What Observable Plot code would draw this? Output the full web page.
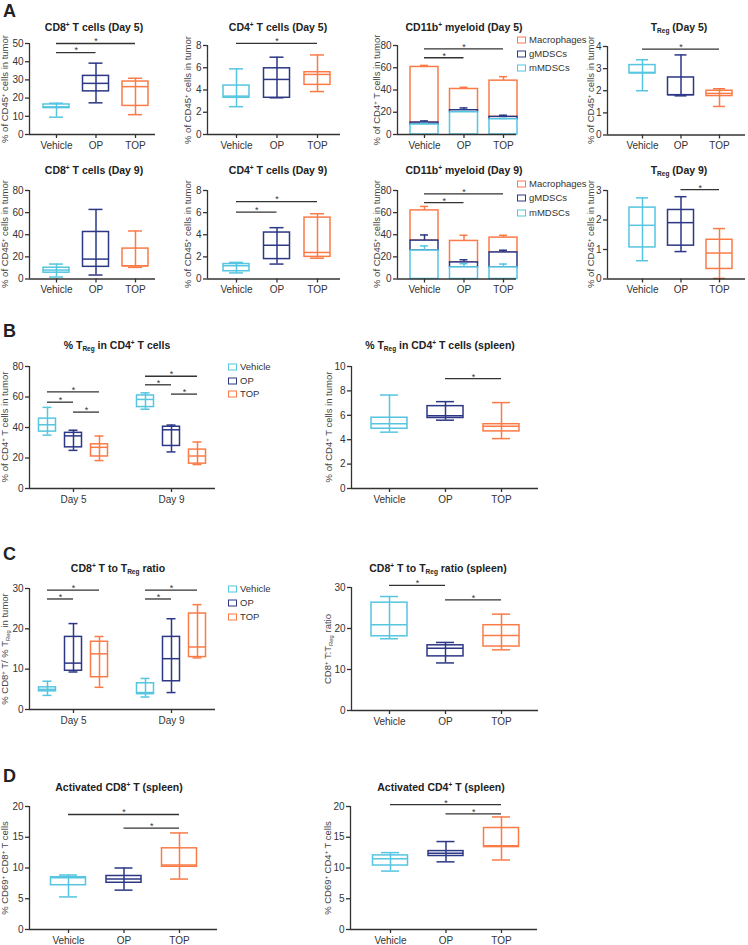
<!DOCTYPE html>
<html><head><meta charset="utf-8">
<script src="https://cdn.jsdelivr.net/npm/d3@7"></script>
<script src="https://cdn.jsdelivr.net/npm/@observablehq/plot@0.6"></script>
<style>
html,body{margin:0;padding:0;background:#fff;}
#fig{position:relative;width:748px;height:945px;overflow:hidden;font-family:"Liberation Sans",Arial,sans-serif;color:#222;}
.t{position:absolute;white-space:nowrap;line-height:1;}
.title{font-weight:bold;font-size:10.5px;transform:translate(-50%,-50%);color:#222;}
.ylab{font-size:9.5px;color:#444;transform:translate(-50%,-50%) rotate(-90deg);}
.letter{font-weight:bold;font-size:18px;transform:translate(0,-50%);}
.leg{font-size:9.5px;color:#333;transform:translate(0,-50%);}
.sq{position:absolute;width:7px;height:5px;border:1.4px solid;transform:translate(0,-50%);}
sub{font-size:0.62em;vertical-align:-0.35em;line-height:0}
sup{font-size:0.62em;vertical-align:0.55em;line-height:0}
</style></head><body><div id="fig"></div><script>
// ---------- data ----------
const groups = ["Vehicle", "OP", "TOP"];
const days = ["Day 5", "Day 9"];
const groupColors = ["#55c5e0", "#2c3785", "#fb7b47"];
const subsets = ["Macrophages", "gMDSCs", "mMDSCs"];

// box stats per group: [min, Q1, median, Q3, max]
const cd8Day5 = [[9.5, 14.5, 15.2, 16.5, 17.2], [17.4, 23.7, 28.1, 32.2, 39.2], [10.9, 15.7, 26.3, 29.1, 30.9]];
const cd8Day5Sig = [[0, 1, 45], [0, 2, 50]];
const cd4Day5 = [[2.5, 3.3, 3.45, 4.4, 5.9], [3.3, 3.3, 4.95, 5.95, 6.95], [3.86, 4.46, 5.4, 5.6, 7.15]];
const cd4Day5Sig = [[0, 2, 8.2]];
const tregDay5 = [[2.0, 2.78, 2.83, 3.16, 3.4], [1.77, 1.8, 1.82, 2.6, 3.62], [1.29, 1.76, 1.88, 2.0, 2.09]];
const tregDay5Sig = [[0, 2, 3.88]];
const cd8Day9 = [[1.8, 5.7, 8.1, 10.2, 13.5], [3.6, 11, 18, 42.5, 62.9], [10.5, 11.4, 12, 27.5, 43.4]];
const cd8Day9Sig = [];
const cd4Day9 = [[0.55, 0.7, 1.2, 1.35, 1.5], [1.35, 1.8, 3.05, 4.2, 4.64], [1.88, 2.0, 2.4, 5.55, 5.9]];
const cd4Day9Sig = [[0, 1, 6.05], [0, 2, 7.0]];
const tregDay9 = [[0.62, 1.07, 1.82, 2.42, 2.75], [0.93, 1.13, 1.91, 2.34, 2.79], [0.02, 0.34, 0.88, 1.33, 1.71]];
const tregDay9Sig = [[1, 2, 3.03]];

// CD11b+ myeloid stacked means (bottom to top: mMDSCs, gMDSCs, Macrophages) and errors
const mmdscDay5 = [9.0, 20.0, 13.7], mmdscDay5Err = [1.0, 1.0, 0.8];
const gmdscDay5 = [1.7, 1.8, 2.1], gmdscDay5Err = [1.5, 2.1, 1.5];
const macroDay5 = [50.0, 19.1, 32.6], macroDay5Err = [1.4, 1.5, 3.6];
const myeloidDay5Sig = [[0, 1, 69], [0, 2, 77]];
const mmdscDay9 = [25.7, 10.5, 10.5], mmdscDay9Err = [4.2, 3.3, 3.0];
const gmdscDay9 = [9.0, 4.5, 13.5], gmdscDay9Err = [5.1, 2.4, 2.0];
const macroDay9 = [27.3, 19.4, 13.4], macroDay9Err = [3.6, 5.1, 2.1];
const myeloidDay9Sig = [[0, 1, 69], [0, 2, 77]];

// B: % Treg in CD4+ T cells, per day then per group
const tregPctDay5 = [[35, 37.3, 41.8, 45.8, 53.2], [25, 27, 34.5, 36.5, 38.2], [18.3, 21, 27, 29, 34.4]];
const tregPctDay9 = [[52, 53.4, 58.4, 61, 62.7], [24, 27.9, 38.5, 40.5, 41.6], [15.7, 16.3, 21.3, 25.5, 30.5]];
const tregPctSig = [[0, 0, 2, 63.4], [0, 0, 1, 56.6], [0, 1, 2, 50.1], [1, 0, 2, 73.6], [1, 0, 1, 68], [1, 1, 2, 61.9]];
const tregSpleen = [[4.62, 4.9, 5.3, 5.8, 7.66], [5.6, 5.78, 5.97, 6.75, 7.12], [4.09, 4.68, 5.1, 5.27, 7.04]];
const tregSpleenSig = [[1, 2, 9.0]];

// C: CD8+ T to Treg ratio
const ratioDay5 = [[3.5, 4.5, 5.0, 5.5, 7.0], [9.3, 9.6, 11.5, 18.0, 21.3], [5.5, 8.0, 13.8, 16.8, 18.1]];
const ratioDay9 = [[3.1, 3.8, 4.2, 6.5, 7.7], [4.2, 7.0, 12.6, 18.0, 22.5], [12.8, 13.0, 15.5, 23.8, 26.0]];
const ratioSig = [[0, 0, 2, 29.6], [0, 0, 1, 27.4], [1, 0, 2, 29.6], [1, 0, 1, 27.4]];
const ratioSpleen = [[17.5, 18.1, 20.9, 26.3, 27.8], [11.6, 13.2, 15.2, 15.9, 16.6], [14.8, 15.6, 18.3, 20.8, 23.5]];
const ratioSpleenSig = [[0, 1, 30.5], [1, 2, 27]];

// D: activated (CD69+) T cells in spleen
const cd69Cd8 = [[5.3, 7.2, 8.4, 8.5, 8.86], [6.4, 7.6, 8.2, 8.7, 10], [8.2, 10.2, 10.5, 13.2, 15.7]];
const cd69Cd8Sig = [[0, 2, 18.7], [1, 2, 16.5]];
const cd69Cd4 = [[9.5, 10.4, 11.5, 12.05, 12.5], [11.0, 11.95, 12.4, 12.75, 14.3], [11.3, 13.4, 13.6, 16.5, 18.3]];
const cd69Cd4Sig = [[0, 2, 20.3], [1, 2, 18.8]];

// ---------- helpers ----------
const fig = document.getElementById("fig");
const AX = "#333";
const yfmt = d3.format("~g");
function put(el, left, top) { el.style.position = "absolute"; el.style.left = left + "px"; el.style.top = top + "px"; fig.appendChild(el); }
function text(cls, html, x, y) { const d = document.createElement("div"); d.className = "t " + cls; d.innerHTML = html; put(d, x, y); return d; }
function legend(x, ys, labels, colors) {
  labels.forEach((l, i) => {
    const s = document.createElement("div"); s.className = "sq"; s.style.borderColor = colors[i]; put(s, x, ys[i]);
    text("leg", l, x + 12, ys[i]);
  });
}

function boxMarks(stats, xs, hw, cw) {
  const rows = stats.map((s, i) => ({x: xs[i], lo: s[0], q1: s[1], med: s[2], q3: s[3], hi: s[4], c: groupColors[i % 3]}));
  const sw = 1.5;
  return [
    Plot.ruleX(rows, {x: "x", y1: "lo", y2: "hi", stroke: "c", strokeWidth: sw}),
    Plot.rect(rows, {x1: d => d.x - hw, x2: d => d.x + hw, y1: "q1", y2: "q3", stroke: "c", fill: "none", strokeWidth: sw}),
    Plot.ruleY(rows, {y: "med", x1: d => d.x - hw, x2: d => d.x + hw, stroke: "c", strokeWidth: sw}),
    Plot.ruleY(rows, {y: "lo", x1: d => d.x - cw, x2: d => d.x + cw, stroke: "c", strokeWidth: sw}),
    Plot.ruleY(rows, {y: "hi", x1: d => d.x - cw, x2: d => d.x + cw, stroke: "c", strokeWidth: sw})
  ];
}
function sigMarks(rows) {
  return [
    Plot.ruleY(rows, {x1: "a", x2: "b", y: "y", stroke: AX, strokeWidth: 1.3}),
    Plot.text(rows, {x: d => (d.a + d.b) / 2, y: "y", text: () => "*", dy: -2, fontSize: 9, fill: AX})
  ];
}
function stackMarks(segs, errs, colors, xs, hw, cw) {
  const rects = [], bars = [];
  xs.forEach((x, i) => {
    let base = 0;
    segs.forEach((s, k) => {
      const top = base + s[i];
      rects.push({x, y1: base, y2: top, c: colors[k], k});
      bars.push({x, y1: top, y2: top + errs[k][i], c: colors[k], k});
      base = top;
    });
  });
  rects.sort((a, b) => b.k - a.k);
  const sw = 1.5;
  return [
    Plot.rect(rects, {x1: d => d.x - hw, x2: d => d.x + hw, y1: "y1", y2: "y2", stroke: "c", fill: "white", strokeWidth: sw}),
    Plot.ruleX(bars, {x: "x", y1: "y1", y2: "y2", stroke: "c", strokeWidth: sw}),
    Plot.ruleY(bars, {y: "y2", x1: d => d.x - cw, x2: d => d.x + cw, stroke: "c", strokeWidth: sw})
  ];
}

function panel(g) {
  const mL = 28, mR = 6, mT = 26, mB = 24;
  const width = g.axisEnd - g.axisX + mL + mR;
  const height = g.y0 - g.yTop + mT + mB;
  const d0 = (g.axisX - g.c0) / g.step, d1 = (g.axisEnd - g.c0) / g.step;
  const px = v => v / g.step;
  const svg = Plot.plot({
    width, height, marginLeft: mL, marginRight: mR, marginTop: mT, marginBottom: mB,
    x: {type: "linear", domain: [d0, d1]},
    y: {domain: [0, g.ymax]},
    color: {type: "identity"},
    style: {fontFamily: "'Liberation Sans', Arial, sans-serif", fontSize: "10px", color: "#333", background: "transparent", overflow: "visible"},
    marks: [
      ...g.marks(px),
      Plot.ruleX([d0], {y1: 0, y2: g.ymax, stroke: AX, strokeWidth: 1.3}),
      Plot.ruleY([0], {x1: d0, x2: d1, stroke: AX, strokeWidth: 1.3}),
      Plot.axisY({ticks: g.yticks, tickFormat: yfmt, tickSize: 4, tickPadding: 2, label: null, stroke: AX, strokeWidth: 1.3, fill: "#333"}),
      Plot.axisX({ticks: g.xticks, tickFormat: g.xfmt, tickSize: 4, tickPadding: 3, label: null, stroke: AX, strokeWidth: 1.3, fill: "#333"})
    ]
  });
  put(svg, g.axisX - mL, g.yTop - mT);
  if (g.title) text("title", g.title, g.titleX, g.titleY);
  if (g.ylab) text("ylab", g.ylab, g.ylabX, (g.y0 + g.yTop) / 2);
}

const idx = [0, 1, 2];
const simpleSig = s => s.map(([a, b, y]) => ({a, b, y}));
function simpleBox(stats, sig, hwPx, cwPx) {
  return px => [...boxMarks(stats, idx, px(hwPx), px(cwPx)), ...sigMarks(simpleSig(sig))];
}
const dodge = 26 / 98;
function groupedBox(day5, day9, sig, hwPx, cwPx) {
  return px => {
    const xs = [], stats = [];
    [day5, day9].forEach((d, g) => d.forEach((s, k) => { xs.push(g + (k - 1) * dodge); stats.push(s); }));
    const rows = sig.map(([g, a, b, y]) => ({a: g + (a - 1) * dodge, b: g + (b - 1) * dodge, y}));
    return [...boxMarks(stats, xs, px(hwPx), px(cwPx)), ...sigMarks(rows)];
  };
}
const SUP = "<sup>+</sup>", REG = "T<sub>Reg</sub>";
const gfmt = i => groups[i], dfmt = i => days[i];
const cd45 = `% of CD45${SUP} cells in tumor`, cd4lab = `% of CD4${SUP} T cells in tumor`;

// ---------- panel A ----------
text("letter", "A", 3, 11);
const rowA = [{y0: 134, tops: [43, 45, 45, 45.5], tY: 27}, {y0: 278, tops: [189.5, 189.5, 189.5, 189.5], tY: 170}];
[0, 1].forEach(r => {
  const R = rowA[r], day = r === 0 ? "Day 5" : "Day 9";
  panel({axisX: 29, axisEnd: 155, c0: 56, step: 39.5, y0: R.y0, yTop: R.tops[0], ymax: r ? 80 : 50,
    yticks: r ? [0, 20, 40, 60, 80] : [0, 10, 20, 30, 40, 50], xticks: idx, xfmt: gfmt,
    marks: simpleBox(r ? cd8Day9 : cd8Day5, r ? cd8Day9Sig : cd8Day5Sig, 13, 7),
    title: `CD8${SUP} T cells (${day})`, titleX: 94, titleY: R.tY, ylab: cd45, ylabX: 5});
  panel({axisX: 207, axisEnd: 340, c0: 236, step: 40.5, y0: R.y0, yTop: R.tops[1], ymax: 8,
    yticks: [0, 2, 4, 6, 8], xticks: idx, xfmt: gfmt,
    marks: simpleBox(r ? cd4Day9 : cd4Day5, r ? cd4Day9Sig : cd4Day5Sig, 13, 7),
    title: `CD4${SUP} T cells (${day})`, titleX: 278, titleY: R.tY, ylab: cd45, ylabX: 188});
  const segs = r ? [mmdscDay9, gmdscDay9, macroDay9] : [mmdscDay5, gmdscDay5, macroDay5];
  const errs = r ? [mmdscDay9Err, gmdscDay9Err, macroDay9Err] : [mmdscDay5Err, gmdscDay5Err, macroDay5Err];
  panel({axisX: 397, axisEnd: 516, c0: 424, step: 39.5, y0: R.y0, yTop: R.tops[2], ymax: 80,
    yticks: [0, 20, 40, 60, 80], xticks: idx, xfmt: gfmt,
    marks: px => [...stackMarks(segs, errs, [groupColors[0], groupColors[1], groupColors[2]], idx, px(14), px(4)),
                  ...sigMarks(simpleSig(r ? myeloidDay9Sig : myeloidDay5Sig))],
    title: `CD11b${SUP} myeloid (${day})`, titleX: 464, titleY: R.tY, ylab: r ? cd45 : cd4lab, ylabX: 377});
  panel({axisX: 607, axisEnd: 745, c0: 642, step: 38.5, y0: R.y0, yTop: R.tops[3], ymax: r ? 3 : 4,
    yticks: r ? [0, 1, 2, 3] : [0, 1, 2, 3, 4], xticks: idx, xfmt: gfmt,
    marks: simpleBox(r ? tregDay9 : tregDay5, r ? tregDay9Sig : tregDay5Sig, 13, 6),
    title: `${REG} (${day})`, titleX: 679, titleY: R.tY, ylab: cd45, ylabX: 591});
  const ly = r ? [184, 198, 212.5] : [40, 54, 68];
  legend(517, ly, subsets, [groupColors[2], groupColors[1], groupColors[0]]);
});

// ---------- panel B ----------
text("letter", "B", 3, 331);
panel({axisX: 29, axisEnd: 215, c0: 73, step: 98, y0: 488, yTop: 366, ymax: 80,
  yticks: [0, 20, 40, 60, 80], xticks: [0, 1], xfmt: dfmt,
  marks: groupedBox(tregPctDay5, tregPctDay9, tregPctSig, 8.5, 4.5),
  title: `% ${REG} in CD4${SUP} T cells`, titleX: 117, titleY: 345, ylab: cd4lab, ylabX: 5});
legend(228, [367, 381, 394], groups, groupColors);
panel({axisX: 351, axisEnd: 538, c0: 389, step: 56, y0: 488, yTop: 366, ymax: 10,
  yticks: [0, 2, 4, 6, 8, 10], xticks: idx, xfmt: gfmt,
  marks: simpleBox(tregSpleen, tregSpleenSig, 18, 9),
  title: `% ${REG} in CD4${SUP} T cells (spleen)`, titleX: 440, titleY: 345, ylab: cd4lab, ylabX: 329});

// ---------- panel C ----------
text("letter", "C", 3, 554);
panel({axisX: 29, axisEnd: 215, c0: 73, step: 98, y0: 709, yTop: 588, ymax: 30,
  yticks: [0, 10, 20, 30], xticks: [0, 1], xfmt: dfmt,
  marks: groupedBox(ratioDay5, ratioDay9, ratioSig, 8.5, 4.5),
  title: `CD8${SUP} T to ${REG} ratio`, titleX: 118, titleY: 568, ylab: `% CD8${SUP} T/ % ${REG} in tumor`, ylabX: 5});
legend(228, [589, 603, 617], groups, groupColors);
panel({axisX: 351, axisEnd: 538, c0: 389, step: 56, y0: 710, yTop: 587, ymax: 30,
  yticks: [0, 10, 20, 30], xticks: idx, xfmt: gfmt,
  marks: simpleBox(ratioSpleen, ratioSpleenSig, 18, 9),
  title: `CD8${SUP} T to ${REG} ratio (spleen)`, titleX: 438, titleY: 568, ylab: `CD8${SUP} T:${REG} ratio`, ylabX: 328});

// ---------- panel D ----------
text("letter", "D", 3, 776);
panel({axisX: 29, axisEnd: 217, c0: 68, step: 55.5, y0: 929, yTop: 806, ymax: 20,
  yticks: [0, 5, 10, 15, 20], xticks: idx, xfmt: gfmt,
  marks: simpleBox(cd69Cd8, cd69Cd8Sig, 17.5, 9),
  title: `Activated CD8${SUP} T (spleen)`, titleX: 119, titleY: 787, ylab: `% CD69${SUP} CD8${SUP} T cells`, ylabX: 5});
panel({axisX: 350, axisEnd: 537, c0: 390, step: 55.5, y0: 929, yTop: 806, ymax: 20,
  yticks: [0, 5, 10, 15, 20], xticks: idx, xfmt: gfmt,
  marks: simpleBox(cd69Cd4, cd69Cd4Sig, 17.5, 9),
  title: `Activated CD4${SUP} T (spleen)`, titleX: 441, titleY: 787, ylab: `% CD69${SUP} CD4${SUP} T cells`, ylabX: 328});
</script></body></html>
